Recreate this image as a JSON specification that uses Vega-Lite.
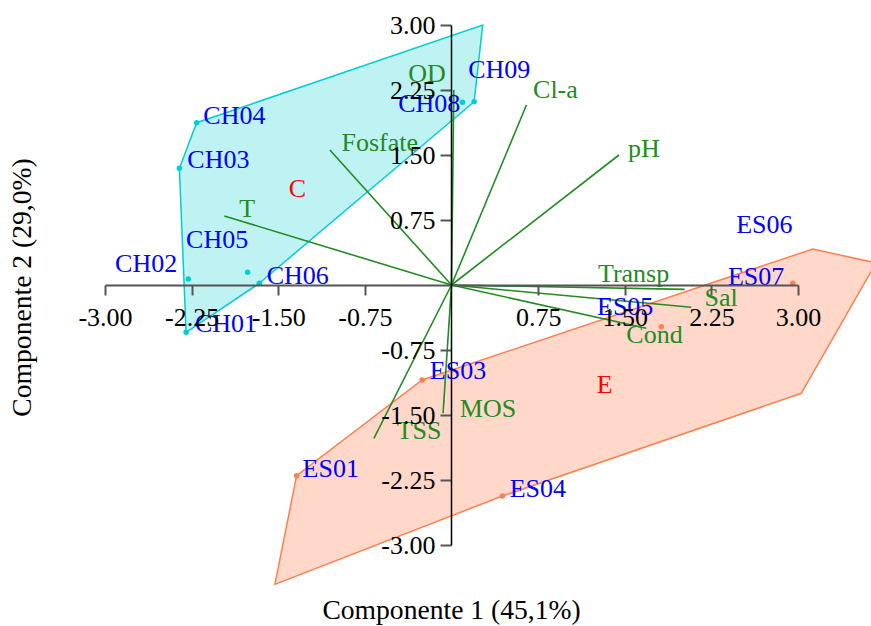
{
  "$schema": "https://vega.github.io/schema/vega-lite/v6.json",
  "width": 693,
  "height": 520,
  "autosize": {"type": "none"},
  "padding": {"left": 105, "top": 25, "right": 73, "bottom": 81},
  "background": "white",
  "config": {"view": {"stroke": null}, "font": "Liberation Serif"},
  "datasets": {
    "hull": [
      {"grp": "C", "i": 1, "x": 0.27, "y": 3.0},
      {"grp": "C", "i": 2, "x": 0.196, "y": 2.115},
      {"grp": "C", "i": 3, "x": -1.664, "y": 0.02},
      {"grp": "C", "i": 4, "x": -2.298, "y": -0.546},
      {"grp": "C", "i": 5, "x": -2.356, "y": 1.346},
      {"grp": "C", "i": 6, "x": -2.206, "y": 1.873},
      {"grp": "E", "i": 1, "x": -1.529, "y": -3.454},
      {"grp": "E", "i": 2, "x": -1.341, "y": -2.2},
      {"grp": "E", "i": 3, "x": -0.254, "y": -1.096},
      {"grp": "E", "i": 4, "x": 3.128, "y": 0.415},
      {"grp": "E", "i": 5, "x": 3.675, "y": 0.254},
      {"grp": "E", "i": 6, "x": 3.028, "y": -1.25},
      {"grp": "E", "i": 7, "x": 0.441, "y": -2.435}
    ],
    "samples": [
      {"id": "CH01", "grp": "C", "x": -2.298, "y": -0.546, "lx": -2.221, "ly": -0.542},
      {"id": "CH02", "grp": "C", "x": -2.279, "y": 0.069, "lx": -2.913, "ly": 0.153},
      {"id": "CH03", "grp": "C", "x": -2.356, "y": 1.346, "lx": -2.287, "ly": 1.346},
      {"id": "CH04", "grp": "C", "x": -2.206, "y": 1.873, "lx": -2.149, "ly": 1.858},
      {"id": "CH05", "grp": "C", "x": -1.765, "y": 0.147, "lx": -2.298, "ly": 0.423},
      {"id": "CH06", "grp": "C", "x": -1.664, "y": 0.02, "lx": -1.6, "ly": 0.012},
      {"id": "CH08", "grp": "C", "x": 0.095, "y": 2.108, "lx": -0.462, "ly": 2.0},
      {"id": "CH09", "grp": "C", "x": 0.196, "y": 2.115, "lx": 0.144, "ly": 2.385},
      {"id": "ES01", "grp": "E", "x": -1.341, "y": -2.2, "lx": -1.289, "ly": -2.212},
      {"id": "ES03", "grp": "E", "x": -0.254, "y": -1.096, "lx": -0.188, "ly": -1.088},
      {"id": "ES04", "grp": "E", "x": 0.441, "y": -2.435, "lx": 0.504, "ly": -2.442},
      {"id": "ES05", "grp": "E", "x": 1.817, "y": -0.481, "lx": 1.26, "ly": -0.346},
      {"id": "ES06", "grp": "E", "x": null, "y": null, "lx": 2.465, "ly": 0.6},
      {"id": "ES07", "grp": "E", "x": 2.955, "y": 0.02, "lx": 2.393, "ly": 0.0}
    ],
    "vectors": [
      {"var": "OD", "x": 0.02, "y": 2.25, "lx": -0.375, "ly": 2.346},
      {"var": "Cl-a", "x": 0.649, "y": 2.077, "lx": 0.706, "ly": 2.154},
      {"var": "pH", "x": 1.45, "y": 1.5, "lx": 1.528, "ly": 1.477},
      {"var": "Fosfate", "x": -1.053, "y": 1.558, "lx": -0.952, "ly": 1.55},
      {"var": "T", "x": -1.967, "y": 0.796, "lx": -1.837, "ly": 0.781},
      {"var": "Transp", "x": 2.018, "y": -0.05, "lx": 1.268, "ly": 0.038},
      {"var": "Sal", "x": 2.076, "y": -0.257, "lx": 2.191, "ly": -0.242},
      {"var": "Cond", "x": 1.687, "y": -0.5, "lx": 1.514, "ly": -0.669},
      {"var": "MOS", "x": -0.073, "y": -1.48, "lx": 0.072, "ly": -1.527},
      {"var": "TSS", "x": -0.672, "y": -1.769, "lx": -0.475, "ly": -1.777}
    ],
    "groups": [
      {"grp": "C", "x": -1.334, "y": 1.015},
      {"grp": "E", "x": 1.326, "y": -1.25}
    ]
  },
  "layer": [
    {
      "data": {"name": "hull"},
      "transform": [{"filter": "datum.grp === 'C'"}],
      "mark": {"type": "line", "interpolate": "linear-closed", "fill": "#00CED1", "fillOpacity": 0.25, "stroke": "#00CED1", "strokeWidth": 1.5},
      "encoding": {
        "x": {"field": "x", "type": "quantitative", "scale": {"domain": [-3, 3], "nice": false, "zero": false},
          "axis": {"values": [-3, -2.25, -1.5, -0.75, 0.75, 1.5, 2.25, 3], "labelExpr": "replace(format(datum.value, '.2f'), '\u2212', '-')", "orient": "bottom", "offset": -260, "grid": false, "domainColor": "#555", "domainWidth": 2, "tickColor": "#555", "tickWidth": 2, "tickSize": 10, "labelFont": "Liberation Serif", "labelFontSize": 26, "labelColor": "#000", "labelPadding": 9, "labelFlush": false, "labelOverlap": false, "labelBaseline": "top", "title": "Componente 1 (45,1%)", "titleFont": "Liberation Serif", "titleFontSize": 27.6, "titleFontWeight": "normal", "titleColor": "#000", "titleX": 346, "titleY": 333, "titleBaseline": "alphabetic", "titleAlign": "center", "zindex": 1}},
        "y": {"field": "y", "type": "quantitative", "scale": {"domain": [-3, 3], "nice": false, "zero": false},
          "axis": {"values": [-3, -2.25, -1.5, -0.75, 0.75, 1.5, 2.25, 3], "labelExpr": "replace(format(datum.value, '.2f'), '\u2212', '-')", "orient": "left", "offset": -346, "grid": false, "domainColor": "#000", "domainWidth": 1.5, "tickColor": "#555", "tickWidth": 2, "tickSize": 11, "labelFont": "Liberation Serif", "labelFontSize": 26, "labelColor": "#000", "labelPadding": 5, "labelFlush": false, "labelOverlap": false, "labelBaseline": "middle", "title": "Componente 2 (29,0%)", "titleFont": "Liberation Serif", "titleFontSize": 27.6, "titleFontWeight": "normal", "titleColor": "#000", "titleAngle": -90, "titleX": -421, "titleY": 262, "titleBaseline": "alphabetic", "titleAlign": "center", "zindex": 1}},
        "order": {"field": "i", "type": "quantitative"}
      }
    },
    {
      "data": {"name": "hull"},
      "transform": [{"filter": "datum.grp === 'E'"}],
      "mark": {"type": "line", "interpolate": "linear-closed", "fill": "#FF7F50", "fillOpacity": 0.3, "stroke": "#FF7F50", "strokeWidth": 1.5},
      "encoding": {
        "x": {"field": "x", "type": "quantitative", "scale": {"domain": [-3, 3], "nice": false, "zero": false},
          "axis": {"values": [-3, -2.25, -1.5, -0.75, 0.75, 1.5, 2.25, 3], "labelExpr": "replace(format(datum.value, '.2f'), '\u2212', '-')", "orient": "bottom", "offset": -260, "grid": false, "domainColor": "#555", "domainWidth": 2, "tickColor": "#555", "tickWidth": 2, "tickSize": 10, "labelFont": "Liberation Serif", "labelFontSize": 26, "labelColor": "#000", "labelPadding": 9, "labelFlush": false, "labelOverlap": false, "labelBaseline": "top", "title": "Componente 1 (45,1%)", "titleFont": "Liberation Serif", "titleFontSize": 27.6, "titleFontWeight": "normal", "titleColor": "#000", "titleX": 346, "titleY": 333, "titleBaseline": "alphabetic", "titleAlign": "center", "zindex": 1}},
        "y": {"field": "y", "type": "quantitative", "scale": {"domain": [-3, 3], "nice": false, "zero": false},
          "axis": {"values": [-3, -2.25, -1.5, -0.75, 0.75, 1.5, 2.25, 3], "labelExpr": "replace(format(datum.value, '.2f'), '\u2212', '-')", "orient": "left", "offset": -346, "grid": false, "domainColor": "#000", "domainWidth": 1.5, "tickColor": "#555", "tickWidth": 2, "tickSize": 11, "labelFont": "Liberation Serif", "labelFontSize": 26, "labelColor": "#000", "labelPadding": 5, "labelFlush": false, "labelOverlap": false, "labelBaseline": "middle", "title": "Componente 2 (29,0%)", "titleFont": "Liberation Serif", "titleFontSize": 27.6, "titleFontWeight": "normal", "titleColor": "#000", "titleAngle": -90, "titleX": -421, "titleY": 262, "titleBaseline": "alphabetic", "titleAlign": "center", "zindex": 1}},
        "order": {"field": "i", "type": "quantitative"}
      }
    },
    {
      "data": {"name": "vectors"},
      "mark": {"type": "rule", "color": "#228B22", "strokeWidth": 1.6},
      "encoding": {
        "x": {"field": "x", "type": "quantitative", "scale": {"domain": [-3, 3], "nice": false, "zero": false},
          "axis": {"values": [-3, -2.25, -1.5, -0.75, 0.75, 1.5, 2.25, 3], "labelExpr": "replace(format(datum.value, '.2f'), '\u2212', '-')", "orient": "bottom", "offset": -260, "grid": false, "domainColor": "#555", "domainWidth": 2, "tickColor": "#555", "tickWidth": 2, "tickSize": 10, "labelFont": "Liberation Serif", "labelFontSize": 26, "labelColor": "#000", "labelPadding": 9, "labelFlush": false, "labelOverlap": false, "labelBaseline": "top", "title": "Componente 1 (45,1%)", "titleFont": "Liberation Serif", "titleFontSize": 27.6, "titleFontWeight": "normal", "titleColor": "#000", "titleX": 346, "titleY": 333, "titleBaseline": "alphabetic", "titleAlign": "center", "zindex": 1}},
        "y": {"field": "y", "type": "quantitative", "scale": {"domain": [-3, 3], "nice": false, "zero": false},
          "axis": {"values": [-3, -2.25, -1.5, -0.75, 0.75, 1.5, 2.25, 3], "labelExpr": "replace(format(datum.value, '.2f'), '\u2212', '-')", "orient": "left", "offset": -346, "grid": false, "domainColor": "#000", "domainWidth": 1.5, "tickColor": "#555", "tickWidth": 2, "tickSize": 11, "labelFont": "Liberation Serif", "labelFontSize": 26, "labelColor": "#000", "labelPadding": 5, "labelFlush": false, "labelOverlap": false, "labelBaseline": "middle", "title": "Componente 2 (29,0%)", "titleFont": "Liberation Serif", "titleFontSize": 27.6, "titleFontWeight": "normal", "titleColor": "#000", "titleAngle": -90, "titleX": -421, "titleY": 262, "titleBaseline": "alphabetic", "titleAlign": "center", "zindex": 1}},
        "x2": {"datum": 0},
        "y2": {"datum": 0}
      }
    },
    {
      "data": {"name": "samples"},
      "mark": {"type": "circle", "size": 30, "opacity": 1},
      "encoding": {
        "x": {"field": "x", "type": "quantitative", "scale": {"domain": [-3, 3], "nice": false, "zero": false},
          "axis": {"values": [-3, -2.25, -1.5, -0.75, 0.75, 1.5, 2.25, 3], "labelExpr": "replace(format(datum.value, '.2f'), '\u2212', '-')", "orient": "bottom", "offset": -260, "grid": false, "domainColor": "#555", "domainWidth": 2, "tickColor": "#555", "tickWidth": 2, "tickSize": 10, "labelFont": "Liberation Serif", "labelFontSize": 26, "labelColor": "#000", "labelPadding": 9, "labelFlush": false, "labelOverlap": false, "labelBaseline": "top", "title": "Componente 1 (45,1%)", "titleFont": "Liberation Serif", "titleFontSize": 27.6, "titleFontWeight": "normal", "titleColor": "#000", "titleX": 346, "titleY": 333, "titleBaseline": "alphabetic", "titleAlign": "center", "zindex": 1}},
        "y": {"field": "y", "type": "quantitative", "scale": {"domain": [-3, 3], "nice": false, "zero": false},
          "axis": {"values": [-3, -2.25, -1.5, -0.75, 0.75, 1.5, 2.25, 3], "labelExpr": "replace(format(datum.value, '.2f'), '\u2212', '-')", "orient": "left", "offset": -346, "grid": false, "domainColor": "#000", "domainWidth": 1.5, "tickColor": "#555", "tickWidth": 2, "tickSize": 11, "labelFont": "Liberation Serif", "labelFontSize": 26, "labelColor": "#000", "labelPadding": 5, "labelFlush": false, "labelOverlap": false, "labelBaseline": "middle", "title": "Componente 2 (29,0%)", "titleFont": "Liberation Serif", "titleFontSize": 27.6, "titleFontWeight": "normal", "titleColor": "#000", "titleAngle": -90, "titleX": -421, "titleY": 262, "titleBaseline": "alphabetic", "titleAlign": "center", "zindex": 1}},
        "color": {"field": "grp", "type": "nominal", "scale": {"domain": ["C", "E"], "range": ["#00CED1", "#FF7F50"]}, "legend": null}
      }
    },
    {
      "data": {"name": "vectors"},
      "mark": {"type": "text", "align": "left", "baseline": "alphabetic", "font": "Liberation Serif", "fontSize": 26, "fill": "#228B22"},
      "encoding": {
        "x": {"field": "lx", "type": "quantitative", "scale": {"domain": [-3, 3], "nice": false, "zero": false},
          "axis": {"values": [-3, -2.25, -1.5, -0.75, 0.75, 1.5, 2.25, 3], "labelExpr": "replace(format(datum.value, '.2f'), '\u2212', '-')", "orient": "bottom", "offset": -260, "grid": false, "domainColor": "#555", "domainWidth": 2, "tickColor": "#555", "tickWidth": 2, "tickSize": 10, "labelFont": "Liberation Serif", "labelFontSize": 26, "labelColor": "#000", "labelPadding": 9, "labelFlush": false, "labelOverlap": false, "labelBaseline": "top", "title": "Componente 1 (45,1%)", "titleFont": "Liberation Serif", "titleFontSize": 27.6, "titleFontWeight": "normal", "titleColor": "#000", "titleX": 346, "titleY": 333, "titleBaseline": "alphabetic", "titleAlign": "center", "zindex": 1}},
        "y": {"field": "ly", "type": "quantitative", "scale": {"domain": [-3, 3], "nice": false, "zero": false},
          "axis": {"values": [-3, -2.25, -1.5, -0.75, 0.75, 1.5, 2.25, 3], "labelExpr": "replace(format(datum.value, '.2f'), '\u2212', '-')", "orient": "left", "offset": -346, "grid": false, "domainColor": "#000", "domainWidth": 1.5, "tickColor": "#555", "tickWidth": 2, "tickSize": 11, "labelFont": "Liberation Serif", "labelFontSize": 26, "labelColor": "#000", "labelPadding": 5, "labelFlush": false, "labelOverlap": false, "labelBaseline": "middle", "title": "Componente 2 (29,0%)", "titleFont": "Liberation Serif", "titleFontSize": 27.6, "titleFontWeight": "normal", "titleColor": "#000", "titleAngle": -90, "titleX": -421, "titleY": 262, "titleBaseline": "alphabetic", "titleAlign": "center", "zindex": 1}},
        "text": {"field": "var"}
      }
    },
    {
      "data": {"name": "samples"},
      "mark": {"type": "text", "align": "left", "baseline": "alphabetic", "font": "Liberation Serif", "fontSize": 26, "fill": "#0000FF"},
      "encoding": {
        "x": {"field": "lx", "type": "quantitative", "scale": {"domain": [-3, 3], "nice": false, "zero": false},
          "axis": {"values": [-3, -2.25, -1.5, -0.75, 0.75, 1.5, 2.25, 3], "labelExpr": "replace(format(datum.value, '.2f'), '\u2212', '-')", "orient": "bottom", "offset": -260, "grid": false, "domainColor": "#555", "domainWidth": 2, "tickColor": "#555", "tickWidth": 2, "tickSize": 10, "labelFont": "Liberation Serif", "labelFontSize": 26, "labelColor": "#000", "labelPadding": 9, "labelFlush": false, "labelOverlap": false, "labelBaseline": "top", "title": "Componente 1 (45,1%)", "titleFont": "Liberation Serif", "titleFontSize": 27.6, "titleFontWeight": "normal", "titleColor": "#000", "titleX": 346, "titleY": 333, "titleBaseline": "alphabetic", "titleAlign": "center", "zindex": 1}},
        "y": {"field": "ly", "type": "quantitative", "scale": {"domain": [-3, 3], "nice": false, "zero": false},
          "axis": {"values": [-3, -2.25, -1.5, -0.75, 0.75, 1.5, 2.25, 3], "labelExpr": "replace(format(datum.value, '.2f'), '\u2212', '-')", "orient": "left", "offset": -346, "grid": false, "domainColor": "#000", "domainWidth": 1.5, "tickColor": "#555", "tickWidth": 2, "tickSize": 11, "labelFont": "Liberation Serif", "labelFontSize": 26, "labelColor": "#000", "labelPadding": 5, "labelFlush": false, "labelOverlap": false, "labelBaseline": "middle", "title": "Componente 2 (29,0%)", "titleFont": "Liberation Serif", "titleFontSize": 27.6, "titleFontWeight": "normal", "titleColor": "#000", "titleAngle": -90, "titleX": -421, "titleY": 262, "titleBaseline": "alphabetic", "titleAlign": "center", "zindex": 1}},
        "text": {"field": "id"}
      }
    },
    {
      "data": {"name": "groups"},
      "mark": {"type": "text", "align": "center", "baseline": "alphabetic", "font": "Liberation Serif", "fontSize": 26, "fill": "#FF0000"},
      "encoding": {
        "x": {"field": "x", "type": "quantitative", "scale": {"domain": [-3, 3], "nice": false, "zero": false},
          "axis": {"values": [-3, -2.25, -1.5, -0.75, 0.75, 1.5, 2.25, 3], "labelExpr": "replace(format(datum.value, '.2f'), '\u2212', '-')", "orient": "bottom", "offset": -260, "grid": false, "domainColor": "#555", "domainWidth": 2, "tickColor": "#555", "tickWidth": 2, "tickSize": 10, "labelFont": "Liberation Serif", "labelFontSize": 26, "labelColor": "#000", "labelPadding": 9, "labelFlush": false, "labelOverlap": false, "labelBaseline": "top", "title": "Componente 1 (45,1%)", "titleFont": "Liberation Serif", "titleFontSize": 27.6, "titleFontWeight": "normal", "titleColor": "#000", "titleX": 346, "titleY": 333, "titleBaseline": "alphabetic", "titleAlign": "center", "zindex": 1}},
        "y": {"field": "y", "type": "quantitative", "scale": {"domain": [-3, 3], "nice": false, "zero": false},
          "axis": {"values": [-3, -2.25, -1.5, -0.75, 0.75, 1.5, 2.25, 3], "labelExpr": "replace(format(datum.value, '.2f'), '\u2212', '-')", "orient": "left", "offset": -346, "grid": false, "domainColor": "#000", "domainWidth": 1.5, "tickColor": "#555", "tickWidth": 2, "tickSize": 11, "labelFont": "Liberation Serif", "labelFontSize": 26, "labelColor": "#000", "labelPadding": 5, "labelFlush": false, "labelOverlap": false, "labelBaseline": "middle", "title": "Componente 2 (29,0%)", "titleFont": "Liberation Serif", "titleFontSize": 27.6, "titleFontWeight": "normal", "titleColor": "#000", "titleAngle": -90, "titleX": -421, "titleY": 262, "titleBaseline": "alphabetic", "titleAlign": "center", "zindex": 1}},
        "text": {"field": "grp"}
      }
    }
  ]
}
